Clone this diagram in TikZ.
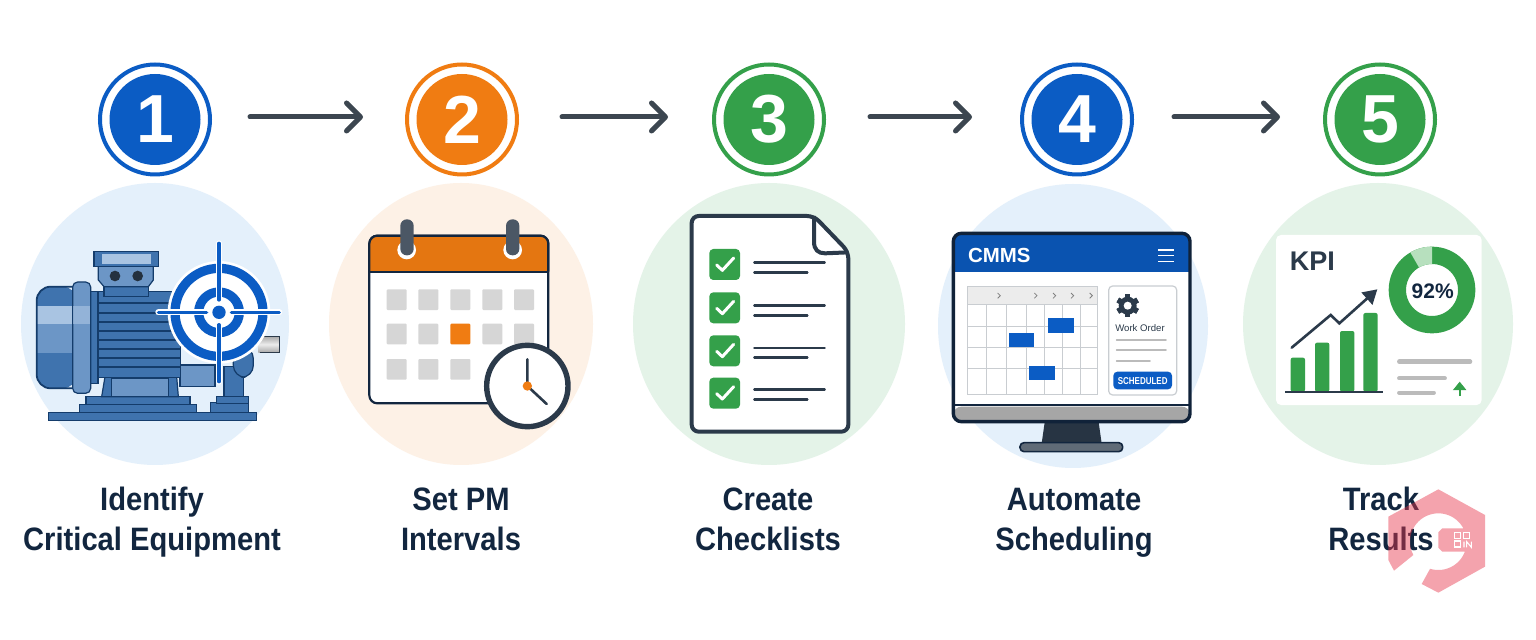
\documentclass[tikz,border=0pt]{standalone}
\usepackage{fontspec}
\usepackage{graphicx}
\setmainfont{Liberation Sans}
\usetikzlibrary{arrows.meta,calc}
\definecolor{cblue}{HTML}{0B5CC4}
\definecolor{corange}{HTML}{F07C12}
\definecolor{cgreen}{HTML}{34A04A}
\definecolor{ink}{HTML}{2B3A4A}
\definecolor{arrowink}{HTML}{3C4650}
\definecolor{navy}{HTML}{12263F}
\definecolor{bgblue}{HTML}{E4F0FB}
\definecolor{bgorange}{HTML}{FDF1E6}
\definecolor{bggreen}{HTML}{E4F3E8}
\definecolor{mbody}{HTML}{3F73AE}
\definecolor{mline}{HTML}{143C6B}
\definecolor{mlight}{HTML}{A9C4E2}
\definecolor{mmid}{HTML}{6C96C6}
\definecolor{cellgrey}{HTML}{D6D6D6}
\definecolor{linegrey}{HTML}{BBBBBB}
\definecolor{gridgrey}{HTML}{C9CDD1}
\definecolor{wmark}{HTML}{E8354A}
\definecolor{donutlight}{HTML}{B7E0BE}
\tikzset{
  x=.5pt,y=-.5pt,
  zoomin/.style 2 args={shift={(#1,#2)},x=.16667pt,y=-.16667pt},
  ringnode/.style={circle,draw=#1,fill=white,line width=2pt,minimum size=55pt,inner sep=0pt},
  discnode/.style={circle,fill=#1,minimum size=45.5pt,inner sep=0pt,text=white,font=\fontsize{34}{34}\selectfont\bfseries},
  flow/.style={draw=arrowink,line width=2.5pt,line cap=round,-{Straight Barb[round,length=7pt,width=14pt,line width=2.5pt]}},
  label/.style={text=navy,align=center,font=\fontsize{16.2}{20}\selectfont\bfseries,inner sep=0pt},
  motor/.style={fill=mbody,draw=mline,line width=.6pt},
  fin/.style={draw=mline,line width=.9pt},
  calcell/.style={fill=cellgrey,rounded corners=.5pt},
  chk/.style={draw=white,line width=1.5pt,line cap=round,line join=round},
  rowline/.style={draw=ink,line width=1.25pt,line cap=round},
  grid/.style={draw=gridgrey,line width=.45pt},
  gantt/.style={fill=cblue},
  panelline/.style={draw=linegrey,line width=.9pt,line cap=round},
  kline/.style={draw=linegrey,line cap=round},
  qr/.style={draw=white,line width=.55pt},
}
\newcommand{\twolines}[2]{\strut\scalebox{.9}[1]{#1}\\\strut\scalebox{.9}[1]{#2}}
\begin{document}
\begin{tikzpicture}
\useasboundingbox (0,0) rectangle (1536,640);
\fill[white] (0,0) rectangle (1536,640);

% pale discs
\fill[bgblue] (155,324) ellipse [x radius=134,y radius=141];
\fill[bgorange] (461,324) ellipse [x radius=132,y radius=141];
\fill[bggreen] (769,324) ellipse [x radius=136,y radius=141];
\fill[bgblue] (1073,326) ellipse [x radius=135,y radius=142];
\fill[bggreen] (1378,324) ellipse [x radius=135,y radius=141];

% badges
\node[ringnode=cblue] (s1) at (155,119.5) {};
\node[ringnode=corange] (s2) at (462,119.5) {};
\node[ringnode=cgreen] (s3) at (769,119.5) {};
\node[ringnode=cblue] (s4) at (1077,119.5) {};
\node[ringnode=cgreen] (s5) at (1380,119.5) {};
\node[discnode=cblue] at (s1) {1};
\node[discnode=corange] at (s2) {2};
\node[discnode=cgreen] at (s3) {3};
\node[discnode=cblue] at (s4) {4};
\node[discnode=cgreen] at (s5) {5};

% connectors
\draw[flow,shorten <=19pt,shorten >=21pt] ([yshift=1.25pt]s1.east) -- ([yshift=1.25pt]s2.west);
\draw[flow,shorten <=21.5pt,shorten >=22pt] ([yshift=1.25pt]s2.east) -- ([yshift=1.25pt]s3.west);
\draw[flow,shorten <=22pt,shorten >=24pt] ([yshift=1.25pt]s3.east) -- ([yshift=1.25pt]s4.west);
\draw[flow,shorten <=20pt,shorten >=21.5pt] ([yshift=1.25pt]s4.east) -- ([yshift=1.25pt]s5.west);

% step 1: motor
\begin{scope}[zoomin={20}{180}]
  \path[motor] (85,697) rectangle (710,722);
  \path[motor] (178,673) rectangle (530,697);
  \path[motor] (198,650) rectangle (510,673);
  \path[motor] (255,590) -- (470,590) -- (475,650) -- (245,650) -- cycle;
  \path[motor,fill=mmid] (275,595) rectangle (445,650);
  \path[motor] (572,668) rectangle (685,697);
  \path[motor] (590,650) rectangle (685,670);
  \path[motor] (612,560) rectangle (670,650);
  \path[motor,rounded corners=6pt] (640,500) rectangle (700,592);
  \path[motor,fill=mmid] (480,555) rectangle (585,620);
  \path[motor] (232,335) rectangle (482,592);
  \foreach \y in {370,398,425,452,480,507,535,562} \draw[fin] (232,\y) -- (480,\y);
  \path[motor] (212,335) rectangle (234,610);
  \fill[rounded corners=7pt,mbody] (50,320) rectangle (170,625);
  \fill[mlight] (52,378) rectangle (160,432);
  \fill[mmid] (52,432) rectangle (160,520);
  \draw[mline,line width=.9pt,rounded corners=7pt] (160,320) -- (50,320) -- (50,625) -- (160,625);
  \path[motor,fill=mmid,rounded corners=2.5pt] (158,306) rectangle (212,640);
  \fill[mlight,opacity=.65] (160,378) rectangle (210,432);
  \path[motor] (252,315) rectangle (385,350);
  \path[motor,fill=mmid] (235,258) -- (400,258) -- (400,300) -- (385,320) -- (252,320) -- (235,300) -- cycle;
  \path[motor] (222,215) rectangle (415,260);
  \fill[mlight] (245,222) rectangle (392,252);
  \fill[ink!85!black] (285,288) circle[radius=16];
  \fill[ink!85!black] (353,288) circle[radius=16];
  \shade[top color=gray!70,bottom color=gray!70,middle color=gray!15] (715,468) rectangle (777,518);
  \draw[ink,line width=.5pt] (777,468) -- (720,468) (777,518) -- (720,518) (777,468) -- (777,518);
  % target
  \fill[white] (597,397) circle[radius=154];
  \draw[cblue,line width=4.6pt] (597,397) circle[radius=132];
  \draw[cblue,line width=4.6pt] (597,397) circle[radius=61];
  \fill[cblue] (597,397) circle[radius=20];
  \draw[white,line width=3pt,line cap=round] (597,190) -- (597,360) (597,434) -- (597,605) (415,397) -- (560,397) (634,397) -- (778,397);
  \draw[cblue,line width=1.6pt,line cap=round] (597,190) -- (597,360) (597,434) -- (597,605) (415,397) -- (560,397) (634,397) -- (778,397);
\end{scope}

% step 2: calendar
\begin{scope}[zoomin={330}{180}]
  \draw[navy,line width=1.1pt,fill=white,rounded corners=4pt] (118,167) rectangle (655,670);
  \draw[navy,line width=1.1pt,fill=corange!95!black,rounded corners=4pt] (118,275) -- (118,167) -- (655,167) -- (655,275);
  \draw[navy,line width=1.1pt] (118,275) -- (655,275);
  \fill[white] (230,210) circle[radius=28];
  \fill[white] (548,210) circle[radius=28];
  \fill[ink!85!white,rounded corners=3.2pt] (211,118) rectangle (251,226);
  \fill[ink!85!white,rounded corners=3.2pt] (528,118) rectangle (568,226);
  \foreach \x in {170,265,361,457,552} \path[calcell] (\x,328) rectangle ++(60,62);
  \foreach \x in {170,265,457,552} \path[calcell] (\x,431) rectangle ++(60,62);
  \fill[corange,rounded corners=.5pt] (361,431) rectangle ++(60,62);
  \foreach \x in {170,265,361} \path[calcell] (\x,537) rectangle ++(60,62);
  \draw[ink,line width=2.7pt,fill=white] (592,618) circle[radius=122];
  \draw[ink,line width=1.3pt,line cap=round] (592,538) -- (592,618) -- (650,672);
  \fill[corange] (592,618) circle[radius=14];
\end{scope}

% step 3: checklist
\begin{scope}[zoomin={660}{200}]
  \draw[ink,line width=2pt,fill=white,line join=round,rounded corners=3.5pt]
    (462,48) -- (95,48) -- (95,695) -- (565,695) -- (565,155) -- cycle;
  \draw[ink,line width=2pt,line join=round] (462,48) -- (462,125) .. controls (462,150) and (475,160) .. (495,160) -- (565,157);
  \foreach \y in {147,277,406,533} {
    \fill[cgreen,rounded corners=2pt] (148,\y) rectangle ++(92,93);
    \draw[chk] (170,\y+48) -- (187,\y+64) -- (221,\y+27);
  }
  \foreach \y in {188,317,444,569} {
    \draw[rowline] (283,\y) -- (494,\y);
    \draw[rowline] (283,\y+29) -- (442,\y+29);
  }
\end{scope}

% step 4: monitor
\begin{scope}[zoomin={930}{210}]
  \fill[ink!90!black] (345,630) -- (505,630) -- (515,700) -- (335,700) -- cycle;
  \draw[navy,fill=ink!75!white,line width=.8pt,rounded corners=2pt] (270,698) rectangle (578,725);
  \fill[white,rounded corners=4pt] (70,70) rectangle (780,635);
  \fill[cblue!90!black,rounded corners=4pt] (70,70) rectangle (780,130);
  \fill[cblue!90!black] (70,110) rectangle (780,187);
  \fill[gray!70,rounded corners=4pt] (70,590) rectangle (780,635);
  \draw[navy,line width=.9pt] (70,585) -- (780,585);
  \draw[navy!90!black,line width=1.7pt,rounded corners=4pt] (70,70) rectangle (780,635);
  \node[text=white,font=\fontsize{10.2}{12}\selectfont\bfseries,inner sep=0pt] (cmmstext) at (208,137) {CMMS};
  \foreach \y in {120,137,155} \draw[white,line width=.8pt] (685,\y) -- (732,\y);
  \fill[gray!15] (112,228) rectangle (503,283);
  \foreach \x in {170,230,288,343,398,452} \draw[grid] (\x,283) -- (\x,553);
  \foreach \y in {348,412,476} \draw[grid] (112,\y) -- (503,\y);
  \draw[grid] (112,228) rectangle (503,553);
  \draw[grid] (112,283) -- (503,283);
  \foreach \x in {207,317,373,427,483} \draw[gray,line width=.4pt] (\x-4,249) -- (\x+4,257) -- (\x-4,265);
  \path[gantt] (353,325) rectangle (431,369);
  \path[gantt] (237,368) rectangle (311,412);
  \path[gantt] (296,467) rectangle (374,511);
  \draw[gridgrey,line width=.6pt,fill=white,rounded corners=2pt] (536,228) rectangle (740,555);
  \foreach \a in {0,60,...,300} \fill[ink,rotate around={\a:(593,287)}] (585,253) rectangle (601,321);
  \fill[ink] (593,287) circle[radius=27];
  \fill[white] (593,287) circle[radius=12];
  \node[text=ink,font=\fontsize{4.8}{7}\selectfont,inner sep=0pt] (wotext) at (630,353) {Work Order};
  \draw[panelline] (560,390) -- (708,390);
  \draw[panelline] (560,421) -- (708,421);
  \draw[panelline] (560,454) -- (660,454);
  \fill[cblue,rounded corners=2pt] (550,485) rectangle (726,538);
  \node[text=white,font=\fontsize{5}{6}\selectfont\bfseries,inner sep=0pt] (schedtext) at (638,512) {\scalebox{.8}[1]{SCHEDULED}};
\end{scope}

% step 5: KPI card
\begin{scope}[zoomin={1240}{210}]
  \fill[white,rounded corners=2.5pt] (108,75) rectangle (725,585);
  \node[text=ink,font=\fontsize{13.5}{16}\selectfont\bfseries,inner sep=0pt] (kpitext) at (217,155) {KPI};
  \draw[cgreen,line width=8.67pt] (576,240) circle[radius=104];
  \fill[donutlight] plot[domain=240:270,samples=12] ({576+130*cos(\x)},{240+130*sin(\x)})
    -- plot[domain=270:240,samples=12] ({576+78*cos(\x)},{240+78*sin(\x)}) -- cycle;
  \node[text=navy,font=\fontsize{10.5}{13}\selectfont\bfseries,inner sep=0pt] (pcttext) at (578,245) {92\%};
  \foreach \x/\t in {152/443,225/398,300/363,370/309} \fill[cgreen,rounded corners=1pt] (\x,\t) rectangle (\x+43,545);
  \draw[ink,line width=1pt] (135,545) -- (428,545);
  \draw[ink,line width=1.3pt,line cap=round,line join=miter,-{Triangle[length=7pt,width=8pt]}] (155,413) -- (272,315) -- (298,340) -- (412,238);
  \draw[kline,line width=2.3pt] (478,455) -- (690,455);
  \draw[kline,line width=1.9pt] (477,505) -- (615,505);
  \draw[kline,line width=1.9pt] (477,548) -- (582,548);
  \draw[cgreen,line width=1pt,-{Triangle[length=4.2pt,width=6.5pt]}] (659,558) -- (659,515);
\end{scope}

% labels
\node[label] (t1) at (152,523) {\twolines{Identify}{Critical Equipment}};
\node[label] (t2) at (461,523) {\twolines{Set PM}{Intervals}};
\node[label] (t3) at (768,523) {\twolines{Create}{Checklists}};
\node[label] (t4) at (1074,523) {\twolines{Automate}{Scheduling}};
\node[label] (t5) at (1381,523) {\twolines{Track}{Results}};

% translucent mark over the last label
\begin{scope}[zoomin={1310}{470}]
  \fill[wmark,opacity=.45,line join=round]
    (310,255) -- plot[domain=152:332,samples=40] ({385+85*cos(\x)},{215+85*sin(\x)})
    -- (397,175) -- (385,187) -- (385,233) -- (397,245) -- (464,245)
    -- plot[domain=20:107,samples=25] ({385+85*cos(\x)},{215+85*sin(\x)})
    -- (335,342) -- (385,368) -- (525,290) -- (525,135) -- (385,58) -- (235,140) -- (235,270) -- (252,302) -- cycle;
  \foreach \x/\y in {434/187,460/187,434/213} \draw[qr] (\x,\y) rectangle ++(18,18);
  \draw[qr] (462,215) -- (462,232) (470,232) -- (470,215) -- (484,232) -- (484,215);
\end{scope}
\end{tikzpicture}
\end{document}
